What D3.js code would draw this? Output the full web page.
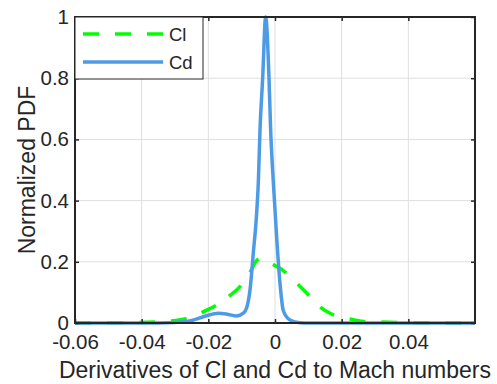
<!DOCTYPE html>
<html lang="en">
	<head>
		<meta charset="utf-8">
		<title>Normalized PDF of Cl and Cd derivatives</title>
		<script type="text/javascript" src="https://cdn.jsdelivr.net/npm/d3@7"></script>
		<style type="text/css">
			body { margin: 0; background: #fff; }
			text { font-family: "Liberation Sans", Arial, sans-serif; fill: #262626; }
		</style>
	</head>
	<body>
		<script type="text/javascript">
			/** Data **/
			var clX = [-0.06, -0.045, -0.0345, -0.0275, -0.0205, -0.0175, -0.0135, -0.0105, -0.0075, -0.0055, -0.0042,
			           -0.001, 0.002, 0.0065, 0.0095, 0.0135, 0.0165, 0.0225, 0.026, 0.032, 0.04, 0.06];
			var clY = [0, 0.001, 0.004, 0.012, 0.042, 0.059, 0.09, 0.119, 0.165, 0.204, 0.211,
			           0.193, 0.175, 0.13, 0.098, 0.053, 0.032, 0.013, 0.006, 0.003, 0.001, 0];

			var cdX = [-0.06, -0.04, -0.03, -0.025, -0.021, -0.017, -0.014, -0.0115, -0.0095, -0.0085, -0.0075,
			           -0.0065, -0.0055, -0.005, -0.0045, -0.0037, -0.0028, -0.0018, -0.0013, -0.0005, 0.0005,
			           0.0015, 0.0025, 0.0045, 0.0075, 0.01, 0.06];
			var cdY = [0, 0, 0.002, 0.008, 0.022, 0.032, 0.028, 0.023, 0.032, 0.05, 0.108,
			           0.23, 0.36, 0.46, 0.63, 0.80, 1.0, 0.80, 0.63, 0.46, 0.28,
			           0.13, 0.04, 0.01, 0.001, 0, 0];

			var xTicks = [-0.06, -0.04, -0.02, 0, 0.02, 0.04];
			var yTicks = [0, 0.2, 0.4, 0.6, 0.8, 1];
			var seriesNames = ["Cl", "Cd"];

			/** Layout **/
			var width = 497;
			var height = 384;
			var pLeft = 75, pRight = 475, pTop = 17, pBottom = 323;

			var svg = d3.select("body")
						.append("svg")
						.attr("width", width)
						.attr("height", height);

			var x = d3.scaleLinear().domain([-0.06, 0.06]).range([pLeft, pRight]);
			var y = d3.scaleLinear().domain([0, 1]).range([pBottom, pTop]);

			/** Grid **/
			svg.append("g").selectAll("line")
				.data(xTicks.concat([0.06]))
				.enter().append("line")
				.attr("x1", d => x(d)).attr("x2", d => x(d))
				.attr("y1", pTop).attr("y2", pBottom)
				.attr("stroke", "#dfdfdf").attr("stroke-width", 1);
			svg.append("g").selectAll("line")
				.data(yTicks)
				.enter().append("line")
				.attr("x1", pLeft).attr("x2", pRight)
				.attr("y1", d => y(d)).attr("y2", d => y(d))
				.attr("stroke", "#dfdfdf").attr("stroke-width", 1);

			/** Curves **/
			var line = d3.line()
				.x(d => x(d[0]))
				.y(d => y(d[1]))
				.curve(d3.curveMonotoneX);

			var plot = svg.append("g");
			plot.append("path")
				.datum(clX.map((v, i) => [v, clY[i]]))
				.attr("d", line)
				.attr("fill", "none")
				.attr("stroke", "#00ff00")
				.attr("stroke-width", 3.5)
				.attr("stroke-dasharray", "16,16");
			plot.append("path")
				.datum(cdX.map((v, i) => [v, cdY[i]]))
				.attr("d", line)
				.attr("fill", "none")
				.attr("stroke", "#4d9be6")
				.attr("stroke-width", 3.5)
				.attr("stroke-linejoin", "round");

			/** Axes **/
			var fmtX = d => d === 0 ? "0" : d.toFixed(2);
			var fmtY = d => (d === 0 || d === 1) ? String(d) : d.toFixed(1);

			function styleAxis(g) {
				g.select(".domain").remove();
				g.selectAll(".tick line").attr("stroke", "#262626").attr("stroke-width", 1.5);
				g.selectAll(".tick text").attr("font-size", "20.5px").attr("fill", "#262626")
					.attr("font-family", "Liberation Sans, Arial, sans-serif");
			}

			svg.append("g")
				.attr("transform", "translate(0," + pBottom + ")")
				.call(d3.axisBottom(x).tickValues(xTicks).tickFormat(fmtX).tickSize(-4).tickPadding(11))
				.call(styleAxis);
			svg.append("g")
				.attr("transform", "translate(0," + pTop + ")")
				.call(d3.axisTop(x).tickValues(xTicks).tickFormat("").tickSize(-4))
				.call(styleAxis);
			svg.append("g")
				.attr("transform", "translate(" + pLeft + ",0)")
				.call(d3.axisLeft(y).tickValues(yTicks).tickFormat(fmtY).tickSize(-4).tickPadding(6))
				.call(styleAxis);
			svg.append("g")
				.attr("transform", "translate(" + pRight + ",0)")
				.call(d3.axisRight(y).tickValues(yTicks).tickFormat("").tickSize(-4))
				.call(styleAxis);

			/** Box **/
			svg.append("rect")
				.attr("x", pLeft).attr("y", pTop)
				.attr("width", pRight - pLeft).attr("height", pBottom - pTop)
				.attr("fill", "none")
				.attr("stroke", "#262626")
				.attr("stroke-width", 2);

			/** Labels **/
			svg.append("text")
				.attr("x", (pLeft + pRight) / 2)
				.attr("y", 378)
				.attr("text-anchor", "middle")
				.attr("font-size", "23px")
				.text("Derivatives of Cl and Cd to Mach numbers");
			svg.append("text")
				.attr("transform", "translate(35," + ((pTop + pBottom) / 2) + ") rotate(-90)")
				.attr("text-anchor", "middle")
				.attr("font-size", "23px")
				.text("Normalized PDF");

			/** Legend **/
			var legend = svg.append("g");
			legend.append("rect")
				.attr("x", pLeft).attr("y", pTop)
				.attr("width", 128).attr("height", 62)
				.attr("fill", "#fff")
				.attr("stroke", "#262626")
				.attr("stroke-width", 1);
			var legY = [34, 62];
			var legendItems = legend.selectAll("g.item")
				.data(seriesNames)
				.enter().append("g")
				.attr("class", "item");
			legendItems.append("line")
				.attr("x1", 83).attr("x2", 163)
				.attr("y1", (d, i) => legY[i]).attr("y2", (d, i) => legY[i])
				.attr("stroke", (d, i) => i === 0 ? "#00ff00" : "#4d9be6")
				.attr("stroke-width", 3.5)
				.attr("stroke-dasharray", (d, i) => i === 0 ? "16,16" : null);
			legendItems.append("text")
				.attr("x", 169)
				.attr("y", (d, i) => legY[i] + 6.5)
				.attr("font-size", "18.5px")
				.text(d => d);
		</script>
	</body>
</html>
